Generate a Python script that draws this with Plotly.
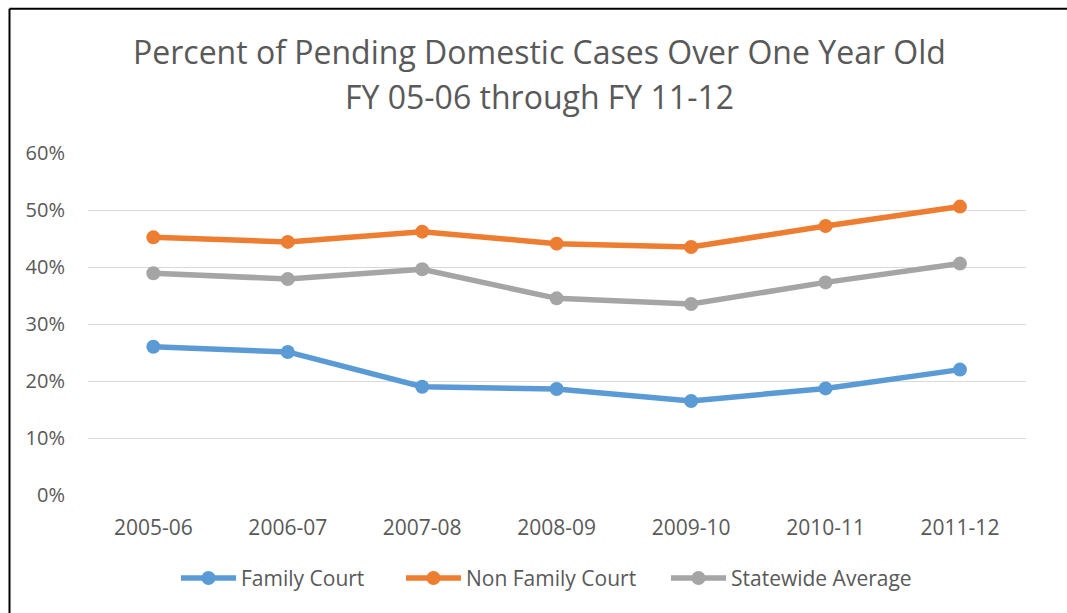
import plotly.graph_objects as go

categories = ["2005-06", "2006-07", "2007-08", "2008-09", "2009-10", "2010-11", "2011-12"]
family_court = [0.260, 0.251, 0.190, 0.186, 0.165, 0.187, 0.220]
non_family_court = [0.452, 0.444, 0.462, 0.441, 0.435, 0.472, 0.506]
statewide_average = [0.389, 0.379, 0.396, 0.345, 0.335, 0.373, 0.406]
y_ticks = [0, 0.1, 0.2, 0.3, 0.4, 0.5, 0.6]
y_tick_labels = ["0%", "10%", "20%", "30%", "40%", "50%", "60%"]
title_line1 = "Percent of Pending Domestic Cases Over One Year Old"
title_line2 = "FY 05-06 through FY 11-12"

W, H = 1067, 613
L, R, T, B = 88, 41, 153, 117.5
FONT = "Open Sans"
TXT = "#595959"

pw = W - L - R
ph = H - T - B
def px_x(px):
    return (px - L) / pw
def px_y(py):
    return (H - B - py) / ph

fig = go.Figure()
series = [
    ("Family Court", family_court, "#5B9BD5", "legend", 178),
    ("Non Family Court", non_family_court, "#ED7D31", "legend2", 403),
    ("Statewide Average", statewide_average, "#A5A5A5", "legend3", 668),
]
legend_common = dict(orientation="h", yanchor="middle", xanchor="left",
                     font=dict(size=21, color=TXT, family=FONT), itemwidth=55,
                     bgcolor="rgba(0,0,0,0)", borderwidth=0)
legends = {}
for name, vals, col, lg, lx in series:
    fig.add_trace(go.Scatter(
        x=categories, y=vals, name=name, mode="lines+markers",
        line=dict(color=col, width=5.5),
        marker=dict(color=col, size=14),
        legend=lg,
    ))
    legends[lg] = dict(legend_common, x=px_x(lx - 2), y=px_y(579))

fig.update_layout(
    width=W, height=H,
    margin=dict(l=L, r=R, t=T, b=B, autoexpand=False),
    paper_bgcolor="white", plot_bgcolor="white",
    font=dict(family=FONT, color=TXT, size=18),
    showlegend=True,
    xaxis=dict(type="category", range=[-0.486, 6.491], showgrid=False, showline=False, ticks="",
               tickfont=dict(size=21, color=TXT), ticklabelstandoff=18),
    yaxis=dict(range=[0, 0.6], tickvals=y_ticks, ticktext=y_tick_labels,
               showgrid=True, gridcolor="#D9D9D9", gridwidth=1, zeroline=False,
               showline=False, ticks="", tickfont=dict(size=20, color=TXT),
               ticklabelstandoff=22),
    annotations=[
        dict(text=title_line1, xref="paper", yref="paper", x=px_x(539), y=px_y(51),
             xanchor="center", yanchor="middle", showarrow=False,
             font=dict(size=32, color=TXT, family=FONT)),
        dict(text=title_line2, xref="paper", yref="paper", x=px_x(539), y=px_y(96),
             xanchor="center", yanchor="middle", showarrow=False,
             font=dict(size=32, color=TXT, family=FONT)),
    ],
    shapes=[
        dict(type="line", xref="paper", yref="paper", x0=px_x(9.5), x1=px_x(1080),
             y0=px_y(8.5), y1=px_y(8.5), line=dict(color="black", width=2)),
        dict(type="line", xref="paper", yref="paper", x0=px_x(9.5), x1=px_x(9.5),
             y0=px_y(8.5), y1=px_y(630), line=dict(color="black", width=2)),
    ],
    **legends,
)

fig.write_html("out.html", config={"displayModeBar": False},
               post_script="document.body.style.margin='0px';")
